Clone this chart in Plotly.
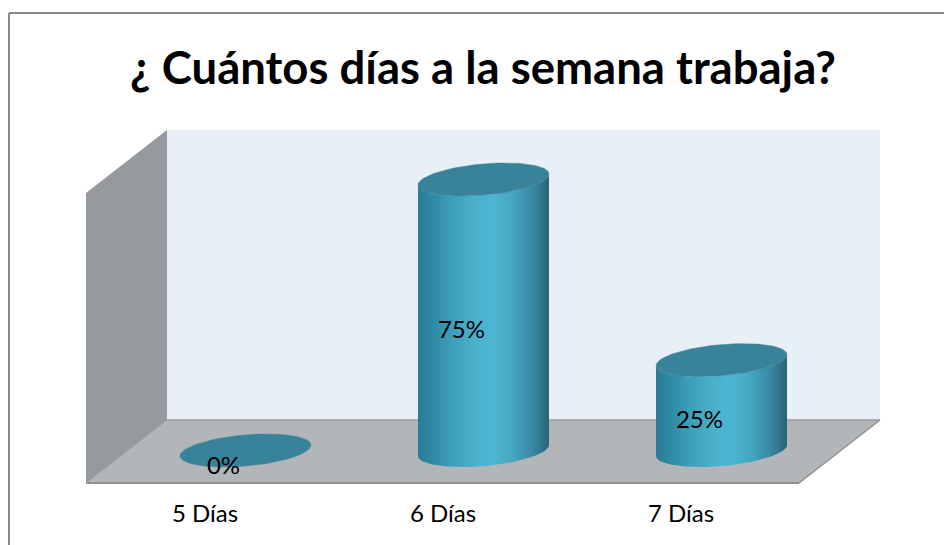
import numpy as np
import plotly.graph_objects as go

categories = ["5 Días", "6 Días", "7 Días"]
values = [0, 75, 25]
labels = ["0%", "75%", "25%"]
title = "¿ Cuántos días a la semana trabaja?"

W, H = 944, 545
AX_BOTTOM = 497          # pixel row of the plot-area bottom
X0, XSTEP = 245.5, 238   # pixel of first category, pixels per category
Y0, YSCALE = 450.5, 271 / 75  # pixel row of value 0, pixels per unit

xrange = [(0 - X0) / XSTEP, (W - X0) / XSTEP]
yrange = [(Y0 - AX_BOTTOM) / YSCALE, Y0 / YSCALE]

A = 65.5 / XSTEP         # ellipse half width
D = 5.5 / YSCALE         # tilt
K = 15.6 / YSCALE        # ellipse half height
t_full = np.linspace(0, 2 * np.pi, 121)
t_low = np.linspace(np.pi, 2 * np.pi, 61)


def rim(i, v, t):
    return i + A * np.cos(t), v + D * np.cos(t) + K * np.sin(t)


BODY_SCALE = [
    [0.00, "#2B7A92"], [0.10, "#2F88A3"], [0.25, "#3C9DB9"], [0.45, "#4BB2CE"],
    [0.58, "#4DB6D2"], [0.72, "#45A6C2"], [0.86, "#3A8CA6"], [0.95, "#2F7289"],
    [1.00, "#2B6277"],
]

fig = go.Figure()
for i, v in enumerate(values):
    if v > 0:
        x1, y1 = rim(i, 0, t_low)
        x2, y2 = rim(i, v, t_low[::-1])
        fig.add_trace(go.Scatter(
            x=np.r_[x1, x2], y=np.r_[y1, y2], mode="lines", fill="toself",
            line=dict(width=0, color="rgba(0,0,0,0)"), hoverinfo="skip", showlegend=False,
            fillgradient=dict(type="horizontal", colorscale=BODY_SCALE,
                              start=i - A, stop=i + A),
        ))
    xt, yt = rim(i, v, t_full)
    fig.add_trace(go.Scatter(
        x=xt, y=yt, mode="lines", fill="toself", fillcolor="#38829A",
        line=dict(width=0.5, color="#3A879F"), hoverinfo="skip", showlegend=False,
    ))

fig.add_trace(go.Scatter(
    x=[i - 22 / XSTEP for i in range(3)],
    y=[v / 2 - 17 / YSCALE for v in values],
    text=labels, mode="text", textposition="middle center",
    textfont=dict(family="Lato", size=24, color="#000000"),
    hoverinfo="skip", showlegend=False,
))


def px(x, y):
    return x / W, 1 - y / AX_BOTTOM


def poly(points, fill):
    path = "M" + " L".join("{:.5f},{:.5f}".format(*px(x, y)) for x, y in points) + " Z"
    return dict(type="path", path=path, xref="paper", yref="paper", layer="below",
                fillcolor=fill, line=dict(color=fill, width=0))


def seg(x0, y0, x1, y1, color, lw):
    a, b = px(x0, y0), px(x1, y1)
    return dict(type="line", xref="paper", yref="paper", layer="below",
                x0=a[0], y0=a[1], x1=b[0], y1=b[1],
                line=dict(color=color, width=lw))


shapes = [
    poly([(167, 130), (880, 130), (880, 420), (167, 420)], "#E8EFF6"),
    poly([(86, 193), (167, 130), (167, 420), (86, 483)], "#96999D"),
    poly([(86, 483), (167, 420), (880, 420), (799, 483)], "#B2B6B9"),
    seg(167, 420, 880, 420, "#9A9DA0", 1.5),
    seg(86, 483, 799, 483, "#8E9194", 2),
    seg(799, 483, 880, 420, "#8E9194", 1.5),
    seg(86, 483, 167, 420, "#9A9DA0", 1),
    seg(9, 13, 944, 13, "#8A8A8A", 2),
    seg(9, 13, 9, 545, "#8A8A8A", 2),
]

fig.update_layout(
    width=W, height=H, autosize=False,
    margin=dict(l=0, r=0, t=0, b=H - AX_BOTTOM),
    paper_bgcolor="#FFFFFF", plot_bgcolor="rgba(0,0,0,0)",
    shapes=shapes, showlegend=False,
    title=dict(text=f"<b>{title}</b>", x=483 / W, xanchor="center", xref="container",
               y=1 - 68 / H, yanchor="middle", yref="container",
               font=dict(family="Lato", size=45.5, color="#000000")),
    xaxis=dict(range=xrange, tickmode="array",
               tickvals=[i - 40.5 / XSTEP for i in range(3)], ticktext=categories,
               showgrid=False, zeroline=False, showline=False, ticks="",
               tickfont=dict(family="Lato", size=24, color="#000000"),
               automargin=False, fixedrange=True),
    yaxis=dict(range=yrange, visible=False, fixedrange=True, automargin=False),
)
fig.write_html("out.html", config={"displayModeBar": False},
               post_script="document.body.style.margin='0';document.body.style.overflow='hidden';")
